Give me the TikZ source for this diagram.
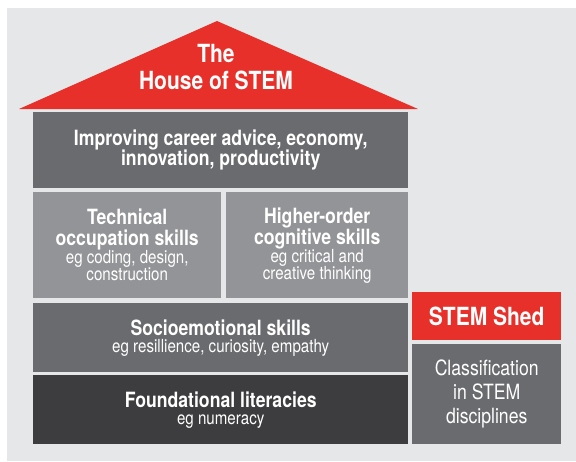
\documentclass[tikz,border=0pt]{standalone}
\usepackage{fontspec}
\setmainfont{TeX Gyre Heros}[FakeStretch=0.84]
\usetikzlibrary{positioning}

\definecolor{stemred}{HTML}{E8302A}
\definecolor{panelgrey}{HTML}{E6E7E8}
\definecolor{slategrey}{HTML}{6A6B6F}
\definecolor{palegrey}{HTML}{939497}
\definecolor{coalgrey}{HTML}{3D3D3F}

\newcommand{\headfont}{\bfseries\fontsize{21}{17}\selectfont}
\newcommand{\egfont}{\mdseries\fontsize{18}{17}\selectfont}
% lines are stacked 17pt apart, extra space is added with \\[..]
\newcommand{\blockfont}{\fontsize{18}{17}\selectfont\setlength{\lineskiplimit}{-20pt}}

\tikzset{
  block/.style={rectangle,inner sep=0pt,anchor=north west,text=white,align=center,
                font=\blockfont},
  bigtitle/.style={text=white,align=center,font=\bfseries\fontsize{25}{27}\selectfont},
}

\begin{document}
\begin{tikzpicture}[x=1pt,y=-1pt]
        \useasboundingbox (0,0) rectangle (576,461);
        \fill[panelgrey] (7,8) rectangle (576,461);

        % roof
        \fill[stemred] (19,109) -- (217,21) -- (418,109) -- cycle;
        \node[bigtitle] (house) at (216,67) {The\\House of STEM};

        % storeys of the house
        \node[block,fill=slategrey,minimum width=375pt,minimum height=76pt] (career) at (33,112)
            {\headfont Improving career advice, economy,\\[3pt]\headfont innovation, productivity};
        \node[block,fill=palegrey,minimum width=188pt,minimum height=106pt] (technical) at (33,192)
            {\headfont Technical\\[4pt]\headfont occupation skills\\[1pt]\egfont eg coding, design,\\\egfont construction};
        \node[block,fill=palegrey,minimum width=182pt,minimum height=106pt] (cognitive) at (226,192)
            {\headfont Higher-order\\[4pt]\headfont cognitive skills\\[1pt]\egfont eg critical and\\\egfont creative thinking};
        \node[block,fill=slategrey,minimum width=375pt,minimum height=69pt] (socio) at (33,303)
            {\headfont Socioemotional skills\\\egfont eg resillience, curiosity, empathy};
        \node[block,fill=coalgrey,minimum width=375pt,minimum height=69pt] (literacy) at (33,375)
            {\headfont Foundational literacies\\\egfont eg numeracy};

        % the shed beside it
        \node[block,fill=stemred,minimum width=149pt,minimum height=48pt,
              font=\bfseries\fontsize{25}{28}\selectfont] (shed) at (412,292) {STEM Shed};
        \node[block,fill=slategrey,minimum width=149pt,minimum height=100pt,
              font=\fontsize{21}{24}\selectfont] (classes) at (412,344)
            {Classification\\in STEM\\disciplines};
    \end{tikzpicture}
\end{document}
